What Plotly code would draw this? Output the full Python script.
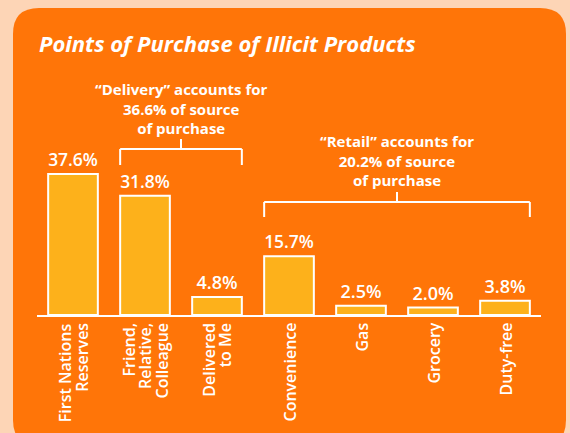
import plotly.graph_objects as go

categories = ["First Nations Reserves", "Friend, Relative, Colleague", "Delivered to Me",
              "Convenience", "Gas", "Grocery", "Duty-free"]
label_lines = [["First Nations", "Reserves"], ["Friend,", "Relative,", "Colleague"],
               ["Delivered", "to Me"], ["Convenience"], ["Gas"], ["Grocery"], ["Duty-free"]]
values = [37.6, 31.8, 4.8, 15.7, 2.5, 2.0, 3.8]
value_labels = ["37.6%", "31.8%", "4.8%", "15.7%", "2.5%", "2.0%", "3.8%"]
groups = [
    {"lines": ["\u201cDelivery\u201d accounts for", "36.6% of source", "of purchase"], "first": 1, "last": 2,
     "ybar": 149, "yend": 165, "ytick": 139, "ytext": 108.5},
    {"lines": ["\u201cRetail\u201d accounts for", "20.2% of source", "of purchase"], "first": 3, "last": 6,
     "ybar": 202, "yend": 217, "ytick": 192, "ytext": 160.5},
]
title = "Points of Purchase of Illicit Products"

W, H = 570, 433
L, R, T, B = 37, 29, 0, 118
PW = W - L - R
PH = H - T - B
FONT = "Open Sans"
ORANGE = "#FF7508"
PEACH = "#FDD5B6"
BAR = "#FDB11B"
BARGAP = 0.31
BW = 1 - BARGAP


def px(x):
    return (x - L) / PW


def py(y):
    return (T + PH - y) / PH


fig = go.Figure()
fig.add_trace(go.Bar(
    x=list(range(len(categories))), y=values, text=value_labels,
    textposition="outside", cliponaxis=False,
    textfont=dict(family=FONT, size=18, color="white", weight=600),
    marker=dict(color=BAR, line=dict(color="white", width=2)),
    hoverinfo="skip",
))

shapes = []
# panel
x0, x1, y0, y1, r = 13, 566, 8, 446, 26
path = (f"M {px(x0 + r)} {py(y0)} L {px(x1 - r)} {py(y0)} Q {px(x1)} {py(y0)} {px(x1)} {py(y0 + r)} "
        f"L {px(x1)} {py(y1 - r)} Q {px(x1)} {py(y1)} {px(x1 - r)} {py(y1)} "
        f"L {px(x0 + r)} {py(y1)} Q {px(x0)} {py(y1)} {px(x0)} {py(y1 - r)} "
        f"L {px(x0)} {py(y0 + r)} Q {px(x0)} {py(y0)} {px(x0 + r)} {py(y0)} Z")
shapes.append(dict(type="path", path=path, xref="paper", yref="paper", fillcolor=ORANGE,
                   line=dict(width=0), layer="below"))

annotations = [dict(text=f"<b><i>{title}</i></b>", x=px(37), y=py(43), xref="paper", yref="paper",
                    xanchor="left", yanchor="middle", showarrow=False,
                    font=dict(family=FONT, size=22, color="white"))]

for g in groups:
    xa = g["first"] - BW / 2
    xb = g["last"] + BW / 2
    xm = (xa + xb) / 2
    lw = dict(color="white", width=2)
    shapes.append(dict(type="line", xref="x", yref="paper", x0=xa, x1=xb, y0=py(g["ybar"]), y1=py(g["ybar"]), line=lw))
    shapes.append(dict(type="line", xref="x", yref="paper", x0=xa, x1=xa, y0=py(g["ybar"]), y1=py(g["yend"]), line=lw))
    shapes.append(dict(type="line", xref="x", yref="paper", x0=xb, x1=xb, y0=py(g["ybar"]), y1=py(g["yend"]), line=lw))
    shapes.append(dict(type="line", xref="x", yref="paper", x0=xm, x1=xm, y0=py(g["ybar"]), y1=py(g["ytick"]), line=lw))
    annotations.append(dict(text="<br>".join(g["lines"]), x=xm, y=py(g["ytext"]), xref="x", yref="paper",
                            xanchor="center", yanchor="middle", align="center", showarrow=False,
                            font=dict(family=FONT, size=15, color="white", weight=700)))

for i, lines in enumerate(label_lines):
    n = len(lines)
    for j, line in enumerate(lines):
        annotations.append(dict(text=line, x=i, y=0, xref="x", yref="paper",
                                xshift=(j - (n - 1) / 2) * 16.5, yshift=-6,
                                xanchor="center", yanchor="top", textangle=-90, showarrow=False,
                                font=dict(family=FONT, size=16, color="white", weight=600)))

fig.update_layout(
    width=W, height=H, margin=dict(l=L, r=R, t=T, b=B),
    paper_bgcolor=PEACH, plot_bgcolor="rgba(0,0,0,0)",
    bargap=BARGAP, showlegend=False,
    xaxis=dict(range=[-0.5, len(categories) - 0.5], showticklabels=False, showgrid=False, zeroline=False,
               showline=True, linecolor="white", linewidth=2, fixedrange=True),
    yaxis=dict(range=[0, PH / 3.75], visible=False, fixedrange=True),
    shapes=shapes, annotations=annotations,
)

fig.write_html("out.html", config={"displayModeBar": False},
               post_script="document.body.style.margin='0';document.body.style.background='%s';" % PEACH)
